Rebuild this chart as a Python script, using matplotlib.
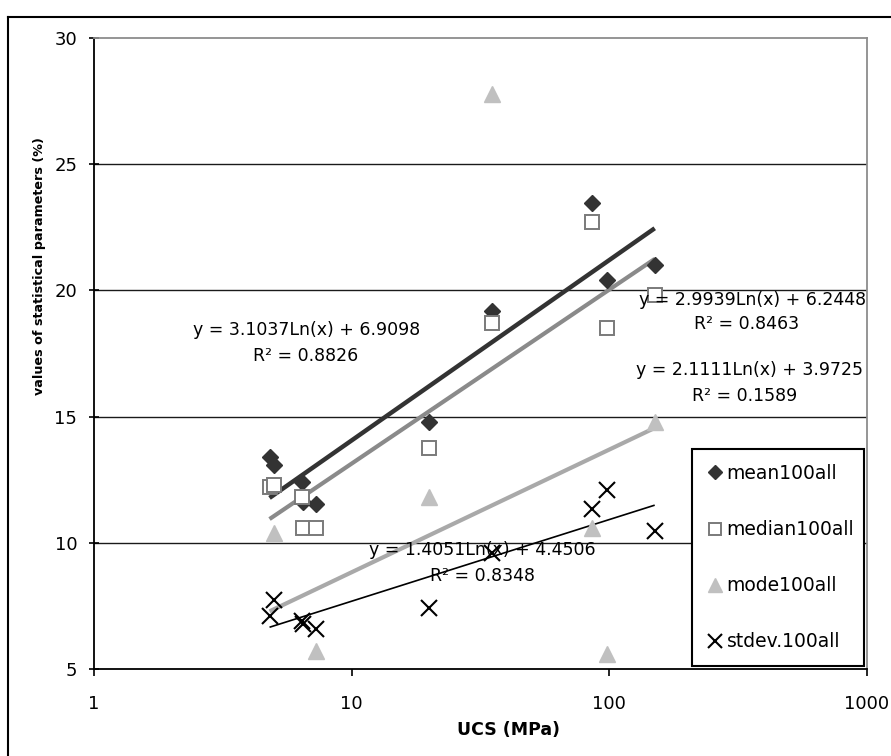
import numpy as np
import matplotlib
matplotlib.use("Agg")
import matplotlib.pyplot as plt
from matplotlib.lines import Line2D

plt.rcParams['font.family'] = ['DejaVu Sans']

# ---------------- data ----------------
ucs = [4.8, 5.0, 6.4, 6.5, 7.3, 20, 35, 86, 98, 150]
mean100all = [13.4, 13.1, 12.4, 11.6, 11.55, 14.8, 19.2, 23.45, 20.4, 21.0]
median100all = [12.2, 12.3, 11.8, 10.6, 10.6, 13.75, 18.7, 22.7, 18.5, 19.8]
stdev100all = [7.1, 7.75, 6.9, 6.8, 6.6, 7.4, 9.6, 11.35, 12.1, 10.45]
mode_ucs = [5.0, 7.3, 20, 35, 86, 98, 150]
mode100all = [10.4, 5.7, 11.8, 27.8, 10.6, 5.6, 14.8]

# logarithmic trendlines shown on the chart: y = a*Ln(x) + b
trend_a = [3.1037, 2.9939, 2.1111, 1.4051]
trend_b = [6.9098, 6.2448, 3.9725, 4.4506]
trend_r2 = ["0.8826", "0.8463", "0.1589", "0.8348"]
trend_range = [4.8, 150]

series_names = ["mean100all", "median100all", "mode100all", "stdev.100all"]
x_ticks = [1, 10, 100, 1000]
x_ticklabels = ["1", "10", "100", "1000"]
y_ticks = [5, 10, 15, 20, 25, 30]
y_ticklabels = ["5", "10", "15", "20", "25", "30"]

W, H = 891, 756
fig = plt.figure(figsize=(W / 100, H / 100), dpi=100)

def fx(px):
    return px / W

def fy(py):
    return 1 - py / H

ax = fig.add_axes([fx(94), fy(669), fx(867) - fx(94), fy(38) - fy(669)])
ax.set_xscale('log')
ax.set_xlim(1, 1000)
ax.set_ylim(5, 30)

# gridlines
for yv in y_ticks[1:-1]:
    ax.axhline(yv, color='#1a1a1a', lw=1.0, zorder=1)

# trendlines
tcolors = ['#333333', '#8a8a8a', '#a9a9a9', '#000000']
twidths = [3.2, 3.0, 3.0, 1.2]
tx = np.array(trend_range, dtype=float)
for a, b, c, w in zip(trend_a, trend_b, tcolors, twidths):
    ax.plot(tx, a * np.log(tx) + b, color=c, lw=w, zorder=2, solid_capstyle='butt')

# markers
h1, = ax.plot(ucs, mean100all, linestyle='none', marker='D', ms=8.5,
              mfc='#333333', mec='#333333', zorder=3, label=series_names[0])
h2, = ax.plot(ucs, median100all, linestyle='none', marker='s', ms=9.5,
              mfc='white', mec='#7a7a7a', mew=1.4, zorder=3, label=series_names[1])
h3, = ax.plot(mode_ucs, mode100all, linestyle='none', marker='^', ms=12,
              mfc='#c0c0c0', mec='#c0c0c0', zorder=3, label=series_names[2])
h4, = ax.plot(ucs, stdev100all, linestyle='none', marker='x', ms=12,
              mec='black', mew=1.5, zorder=4, label=series_names[3])

# axes styling
ax.set_xticks(x_ticks)
ax.set_xticklabels(x_ticklabels)
ax.set_yticks(y_ticks)
ax.set_yticklabels(y_ticklabels)
ax.xaxis.set_minor_locator(matplotlib.ticker.NullLocator())
ax.tick_params(axis='x', direction='out', length=5, width=1.2, labelsize=13, pad=14)
ax.tick_params(axis='y', direction='inout', length=7, width=1.2, labelsize=13, pad=8.5)
for s in ['left', 'bottom']:
    ax.spines[s].set_color('black')
    ax.spines[s].set_linewidth(1.3)
for s in ['top', 'right']:
    ax.spines[s].set_color('#8c8c8c')
    ax.spines[s].set_linewidth(1.3)

# axis titles
fig.text(fx(509), fy(730), "UCS (MPa)", ha='center', va='center',
         fontsize=12.5, fontweight='bold')
fig.text(fx(40), fy(266), "values of statistical parameters (%)", ha='center',
         va='center', rotation=90, fontsize=9.2, fontweight='bold')

# trendline equations
eq_pos = [(307, 330, 306, 356), (753, 300, 747, 324), (749, 370, 745, 396), (482, 550, 483, 576)]
for a, b, r2, (x1, y1, x2, y2) in zip(trend_a, trend_b, trend_r2, eq_pos):
    fig.text(fx(x1), fy(y1), f"y = {a:.4f}Ln(x) + {b:.4f}", ha='center', va='center',
             fontsize=12.5, zorder=10)
    fig.text(fx(x2), fy(y2), f"R\u00b2 = {r2}", ha='center', va='center',
             fontsize=12.5, zorder=10)

# legend
leg = ax.legend(handles=[h1, h2, h3, h4], loc='upper left',
                bbox_to_anchor=(fx(692), fy(667), fx(864) - fx(692), fy(449) - fy(667)),
                bbox_transform=fig.transFigure, mode='expand', borderaxespad=0,
                fancybox=False, frameon=True, edgecolor='black', fontsize=13.5,
                handlelength=0.8, handletextpad=0.25, labelspacing=1.98,
                borderpad=0.8, markerscale=0.85, framealpha=1)
leg.get_frame().set_linewidth(1.5)
leg.set_zorder(20)

# outer figure border (chart-area frame)
fig.add_artist(Line2D([fx(8), 1.0], [fy(17), fy(17)], color='black', lw=1.5))
fig.add_artist(Line2D([fx(8), fx(8)], [fy(17), 0.0], color='black', lw=1.5))

fig.savefig("out.png", dpi=100)
